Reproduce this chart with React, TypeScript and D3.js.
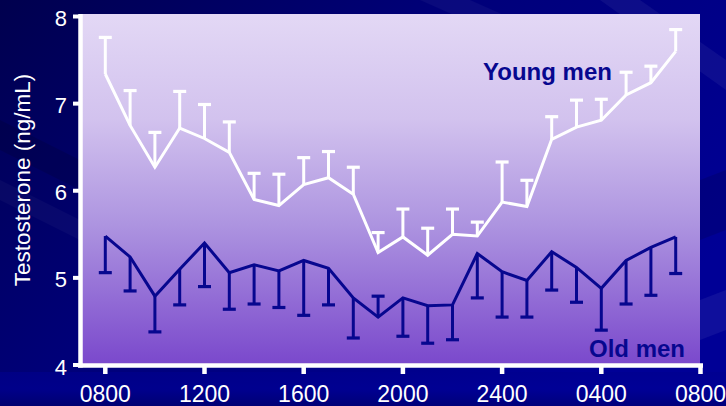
import React from "react";
import * as d3 from "d3";

const hours = [8, 9, 10, 11, 12, 13, 14, 15, 16, 17, 18, 19, 20, 21, 22, 23, 24, 25, 26, 27, 28, 29, 30, 31];
const youngMean = [7.34, 6.75, 6.27, 6.72, 6.6, 6.44, 5.9, 5.83, 6.07, 6.15, 5.96, 5.29, 5.47, 5.26, 5.5, 5.48, 5.87, 5.82, 6.59, 6.73, 6.81, 7.1, 7.24, 7.6];
const youngErrEnd = [7.76, 7.15, 6.67, 7.14, 6.99, 6.79, 6.2, 6.19, 6.38, 6.45, 6.27, 5.52, 5.79, 5.57, 5.79, 5.64, 6.33, 6.12, 6.85, 7.04, 7.05, 7.36, 7.43, 7.85];
const oldMean = [5.48, 5.24, 4.79, 5.1, 5.4, 5.06, 5.15, 5.08, 5.2, 5.11, 4.77, 4.55, 4.77, 4.68, 4.69, 5.28, 5.07, 4.97, 5.3, 5.12, 4.88, 5.2, 5.35, 5.47];
const oldErrEnd = [5.06, 4.85, 4.38, 4.69, 4.9, 4.64, 4.7, 4.66, 4.57, 4.69, 4.31, 4.79, 4.33, 4.25, 4.29, 4.77, 4.55, 4.55, 4.86, 4.72, 4.4, 4.7, 4.8, 5.05];
const xTickValues = [8, 12, 16, 20, 24, 28, 32];
const xTickLabels = ["0800", "1200", "1600", "2000", "2400", "0400", "0800"];
const yTickValues = [4, 5, 6, 7, 8];
const yLabel = "Testosterone (ng/mL)";
const seriesNames = ["Young men", "Old men"];

const W = 726;
const H = 406;

export default function App() {
  const x = d3.scaleLinear().domain([7, 32]).range([80.5, 700.5]);
  const y = d3.scaleLinear().domain([4, 8]).range([365, 16.5]);
  const line = d3
    .line<number>()
    .x((_, i) => x(hours[i]))
    .y((d) => y(d));

  const navy = "#07078f";
  const font = "'Liberation Sans', Arial, sans-serif";
  const capW = 13;

  const errorBars = (means: number[], ends: number[], color: string) =>
    means.map((m, i) => {
      const cx = x(hours[i]);
      return (
        <g key={i}>
          <line x1={cx} x2={cx} y1={y(m)} y2={y(ends[i])} stroke={color} strokeWidth={3} />
          <line x1={cx - capW / 2} x2={cx + capW / 2} y1={y(ends[i])} y2={y(ends[i])} stroke={color} strokeWidth={3.2} />
        </g>
      );
    });

  return (
    <svg width={W} height={H} style={{ position: "absolute", left: 0, top: 0, display: "block" }}>
      <defs>
        <linearGradient id="bg" x1="0" y1="0" x2="1" y2="0.6">
          <stop offset="0" stopColor="#00004e" />
          <stop offset="0.45" stopColor="#000078" />
          <stop offset="1" stopColor="#000096" />
        </linearGradient>
        <linearGradient id="plot" x1="0" y1="0" x2="0" y2="1">
          <stop offset="0" stopColor="#e3d8f5" />
          <stop offset="0.3" stopColor="#d2c2ee" />
          <stop offset="0.6" stopColor="#ad94e0" />
          <stop offset="1" stopColor="#7a48cc" />
        </linearGradient>
        <linearGradient id="bottomBand" x1="0" y1="0" x2="0" y2="1">
          <stop offset="0" stopColor="#00008e" />
          <stop offset="0.5" stopColor="#000096" />
          <stop offset="1" stopColor="#00006a" />
        </linearGradient>
      </defs>
      <rect width={W} height={H} fill="url(#bg)" />
      <rect x={0} y={372} width={W} height={34} fill="url(#bottomBand)" opacity={0.6} />
      {/* diagonal streaks */}
      <polygon points="0,120 0,150 160,230 160,200" fill="#000000" opacity={0.12} />
      <polygon points="0,180 0,200 120,260 120,240" fill="#ffffff" opacity={0.03} />
      <polygon points="420,0 470,0 560,40 510,40" fill="#ffffff" opacity={0.04} />
      <polygon points="600,0 640,0 726,60 726,90" fill="#ffffff" opacity={0.05} />
      <polygon points="700,180 726,170 726,230 700,240" fill="#000000" opacity={0.12} />
      <polygon points="700,300 726,290 726,330 700,340" fill="#ffffff" opacity={0.06} />

      <rect x={82} y={14} width={618} height={351} fill="url(#plot)" />

      {/* axes */}
      <line x1={80.5} x2={80.5} y1={14} y2={367.5} stroke="#fff" strokeWidth={4.5} />
      <line x1={78} x2={703} y1={365.5} y2={365.5} stroke="#fff" strokeWidth={4.5} />
      {yTickValues.map((v) => (
        <g key={v}>
          <line x1={73} x2={80} y1={y(v)} y2={y(v)} stroke="#fff" strokeWidth={4} />
          <text x={67} y={y(v) + 9.5} textAnchor="end" fill="#fff" fontFamily={font} fontSize={22}>
            {v}
          </text>
        </g>
      ))}
      {xTickValues.map((v, i) => (
        <g key={i}>
          <line x1={x(v)} x2={x(v)} y1={365} y2={374} stroke="#fff" strokeWidth={4.5} />
          <text x={x(v)} y={402} textAnchor="middle" fill="#fff" fontFamily={font} fontSize={23}>
            {xTickLabels[i]}
          </text>
        </g>
      ))}
      <text
        transform="translate(30,180) rotate(-90)"
        textAnchor="middle"
        fill="#fff"
        fontFamily={font}
        fontSize={22.5}
      >
        {yLabel}
      </text>

      {/* series */}
      {errorBars(oldMean, oldErrEnd, navy)}
      <path d={line(oldMean) || ""} fill="none" stroke={navy} strokeWidth={3} strokeLinejoin="miter" />
      {errorBars(youngMean, youngErrEnd, "#ffffff")}
      <path d={line(youngMean) || ""} fill="none" stroke="#ffffff" strokeWidth={3} strokeLinejoin="miter" />

      <text x={483} y={80} fill={navy} fontFamily={font} fontSize={24} fontWeight="bold">
        {seriesNames[0]}
      </text>
      <text x={589} y={357} fill={navy} fontFamily={font} fontSize={24} fontWeight="bold">
        {seriesNames[1]}
      </text>
    </svg>
  );
}
